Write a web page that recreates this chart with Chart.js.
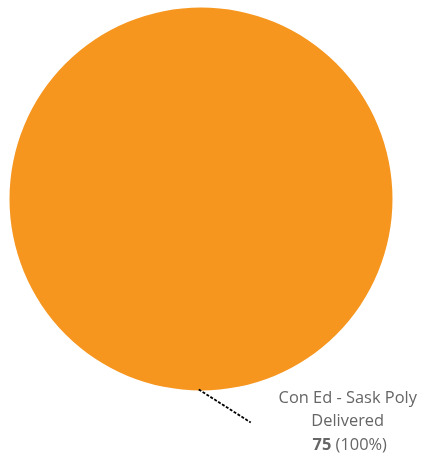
<!DOCTYPE html>
<html>
<head>
<meta charset="utf-8">
<script src="https://cdn.jsdelivr.net/npm/chart.js@4/dist/chart.umd.min.js"></script>
<style>
html,body{margin:0;padding:0;background:#fff;}
#wrap{width:421px;height:454px;position:relative;}
</style>
</head>
<body>
<div id="wrap"><canvas id="c" width="421" height="454"></canvas></div>
<script>
const categories = ["Con Ed - Sask Poly Delivered"];
const categoryLines = [["Con Ed - Sask Poly", "Delivered"]];
const values = [75];
const colors = ["#F6961F"];

const labelPlugin = {
  id: 'outLabel',
  afterDatasetsDraw(chart) {
    const ctx = chart.ctx;
    const meta = chart.getDatasetMeta(0);
    const total = values.reduce((a, b) => a + b, 0);
    meta.data.forEach((arc, i) => {
      const p = arc.getProps(['x', 'y', 'startAngle', 'endAngle', 'outerRadius'], true);
      const mid = (p.startAngle + p.endAngle) / 2 + 0.012;
      const sx = p.x + Math.cos(mid) * (p.outerRadius - 1);
      const sy = p.y + Math.sin(mid) * (p.outerRadius - 1);
      const ex = sx + 52, ey = sy + 33;
      ctx.save();
      ctx.strokeStyle = '#000';
      ctx.lineWidth = 1.8;
      ctx.setLineDash([3, 1.6]);
      ctx.beginPath();
      ctx.moveTo(sx, sy);
      ctx.lineTo(ex, ey);
      ctx.stroke();
      ctx.setLineDash([]);
      const cx = ex + 97;
      const fam = '"Open Sans", "Noto Sans", sans-serif';
      const fs = '16.4px ';
      ctx.fillStyle = '#666666';
      ctx.textBaseline = 'alphabetic';
      ctx.textAlign = 'center';
      ctx.font = fs + fam;
      const lines = categoryLines[i];
      let y = ey - 19.3;
      lines.forEach(l => { ctx.fillText(l, cx, y); y += 23.3; });
      const pct = Math.round(values[i] / total * 100);
      const a = String(values[i]);
      const b = ' (' + pct + '%)';
      ctx.font = 'bold ' + fs + fam;
      const wa = ctx.measureText(a).width;
      ctx.font = fs + fam;
      const wb = ctx.measureText(b).width;
      const x0 = cx - (wa + wb) / 2 + 2;
      ctx.textAlign = 'left';
      ctx.font = 'bold ' + fs + fam;
      ctx.fillText(a, x0, y);
      ctx.font = fs + fam;
      ctx.fillText(b, x0 + wa, y);
      ctx.restore();
    });
  }
};

new Chart(document.getElementById('c'), {
  type: 'pie',
  data: {
    labels: categories,
    datasets: [{ data: values, backgroundColor: colors, borderWidth: 0 }]
  },
  options: {
    responsive: false,
    animation: false,
    layout: { padding: { left: 9.5, right: 28.5, top: 7.5, bottom: 63.5 } },
    plugins: { legend: { display: false }, tooltip: { enabled: false } }
  },
  plugins: [labelPlugin]
});
</script>
</body>
</html>
